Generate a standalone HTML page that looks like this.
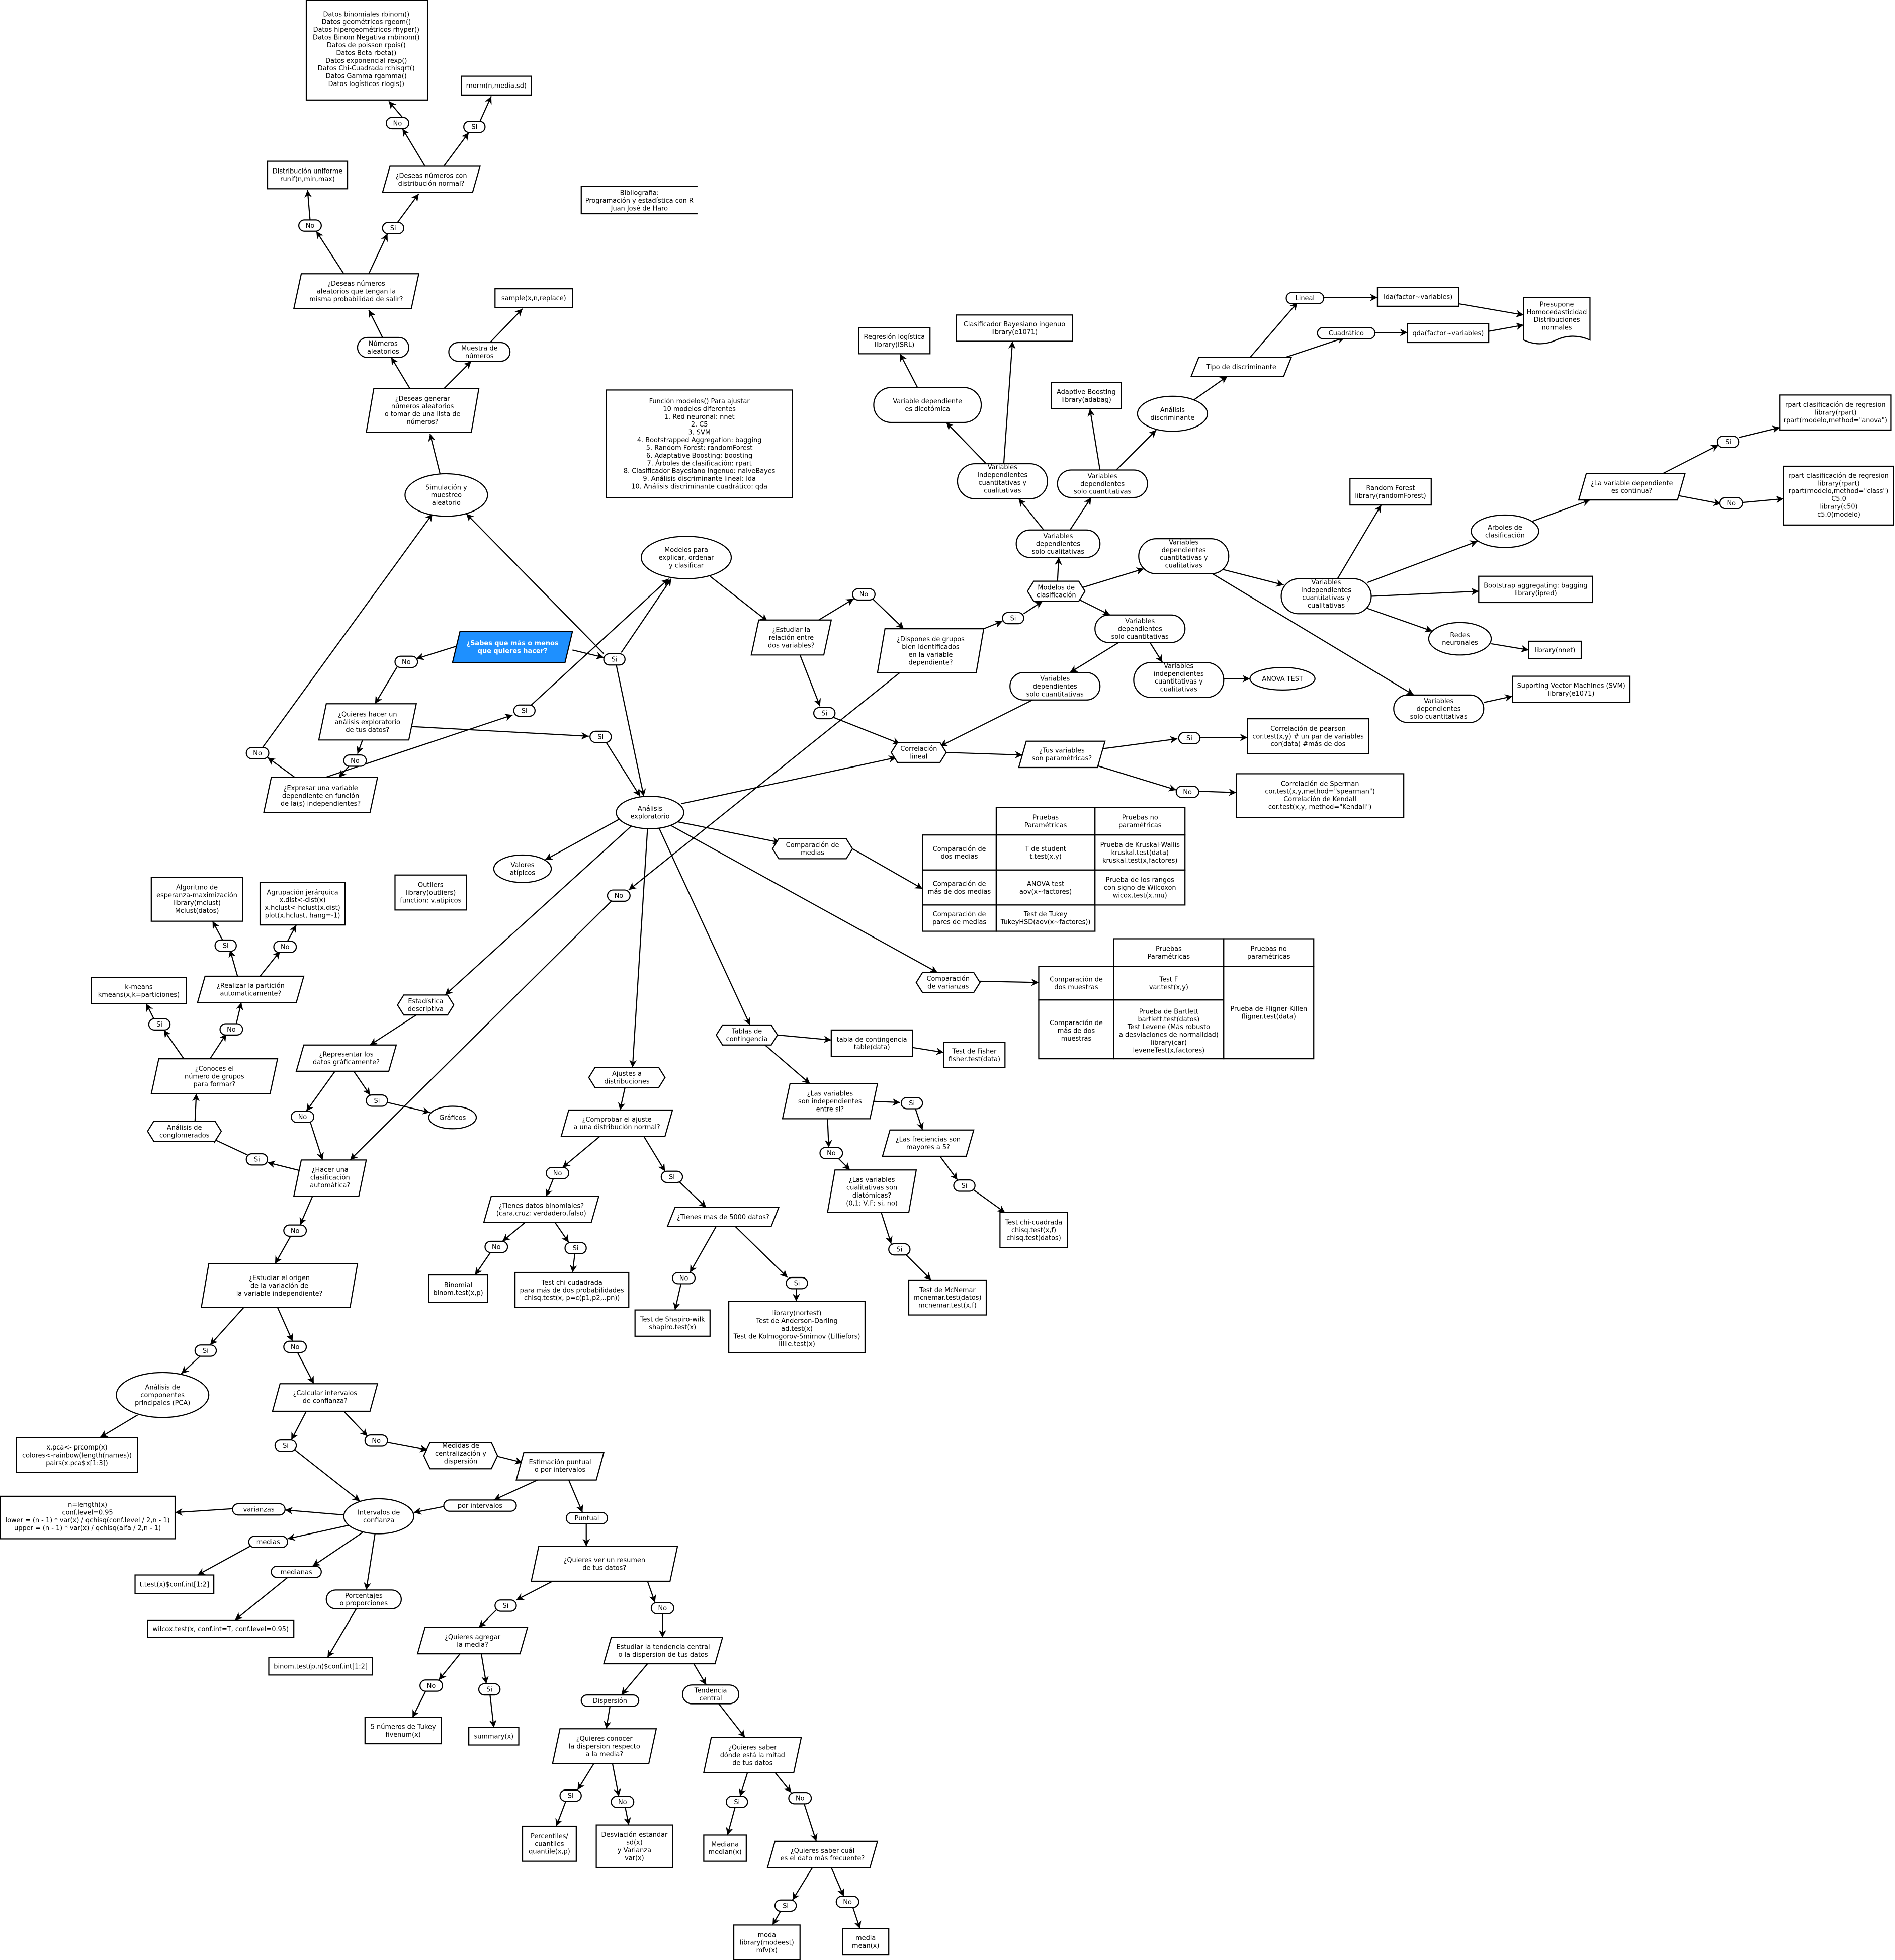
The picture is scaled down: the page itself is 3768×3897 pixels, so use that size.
<!DOCTYPE html>
<html><head><meta charset="utf-8">
<style>
html,body{margin:0;padding:0;background:#fff}
svg{display:block}
text{font-family:"DejaVu Sans","Liberation Sans",sans-serif;font-size:5.2px;text-anchor:middle;fill:#000}
.s{fill:#fff;stroke:#000;stroke-width:.9}
.l{stroke:#000;stroke-width:.9;fill:none;marker-end:url(#a)}
</style></head><body>
<svg width="3768" height="3897" viewBox="0 0 1516 1568" xmlns="http://www.w3.org/2000/svg">
<defs><marker id="a" viewBox="0 0 10 10" refX="10" refY="5" markerWidth="6" markerHeight="6" markerUnits="userSpaceOnUse" orient="auto"><path d="M0,0 L10,5 L0,10 L3,5 z" fill="#000"/></marker></defs>
<rect width="1516" height="1568" fill="#fff"/>

<!-- ARROWS -->
<g>
<line class="l" x1="322" y1="94" x2="311" y2="81"/>
<line class="l" x1="340" y1="133" x2="322" y2="103"/>
<line class="l" x1="355" y1="133" x2="375" y2="106"/>
<line class="l" x1="384" y1="97" x2="393" y2="77"/>
<line class="l" x1="275" y1="219" x2="253" y2="185"/>
<line class="l" x1="248" y1="176" x2="246" y2="152"/>
<line class="l" x1="295" y1="219" x2="310" y2="187"/>
<line class="l" x1="318" y1="178" x2="335" y2="155"/>
<line class="l" x1="306" y1="270" x2="295" y2="248"/>
<line class="l" x1="328" y1="311" x2="313" y2="286"/>
<line class="l" x1="355" y1="311" x2="377" y2="289"/>
<line class="l" x1="392" y1="274" x2="418" y2="247"/>
<line class="l" x1="352" y1="379" x2="344" y2="347"/>
<line class="l" x1="210" y1="598" x2="346" y2="411"/>
<line class="l" x1="236" y1="622" x2="214" y2="606"/>
<line class="l" x1="483" y1="523" x2="373" y2="411"/>
<line class="l" x1="458" y1="520" x2="483" y2="526"/>
<line class="l" x1="365" y1="517" x2="333" y2="527"/>
<line class="l" x1="497" y1="522" x2="537" y2="463"/>
<line class="l" x1="493" y1="532" x2="515" y2="637"/>
<line class="l" x1="318" y1="533" x2="300" y2="563"/>
<line class="l" x1="290" y1="592" x2="286" y2="603"/>
<line class="l" x1="280" y1="612" x2="271" y2="622"/>
<line class="l" x1="325" y1="581" x2="471" y2="589"/>
<line class="l" x1="485" y1="594" x2="512" y2="637"/>
<line class="l" x1="260" y1="622" x2="410" y2="572"/>
<line class="l" x1="425" y1="564" x2="535" y2="463"/>
<line class="l" x1="568" y1="461" x2="614" y2="497"/>
<line class="l" x1="655" y1="496" x2="683" y2="479"/>
<line class="l" x1="698" y1="479" x2="723" y2="503"/>
<line class="l" x1="640" y1="524" x2="656" y2="565"/>
<line class="l" x1="667" y1="574" x2="720" y2="595"/>
<line class="l" x1="787" y1="503" x2="802" y2="497"/>
<line class="l" x1="819" y1="491" x2="834" y2="481"/>
<line class="l" x1="720" y1="538" x2="503" y2="712"/>
<line class="l" x1="490" y1="720" x2="280" y2="928"/>
<line class="l" x1="545" y1="643" x2="717" y2="606"/>
<line class="l" x1="757" y1="602" x2="818" y2="604"/>
<line class="l" x1="882" y1="599" x2="942" y2="591"/>
<line class="l" x1="960" y1="590" x2="998" y2="590"/>
<line class="l" x1="876" y1="612" x2="941" y2="632"/>
<line class="l" x1="959" y1="633" x2="989" y2="634"/>
<line class="l" x1="826" y1="560" x2="752" y2="597"/>
<line class="l" x1="540" y1="657" x2="624" y2="674"/>
<line class="l" x1="682" y1="679" x2="738" y2="711"/>
<line class="l" x1="536" y1="660" x2="750" y2="778"/>
<line class="l" x1="784" y1="785" x2="831" y2="786"/>
<line class="l" x1="496" y1="655" x2="436" y2="688"/>
<line class="l" x1="506" y1="660" x2="356" y2="796"/>
<line class="l" x1="518" y1="663" x2="506" y2="854"/>
<line class="l" x1="527" y1="662" x2="600" y2="820"/>
<line class="l" x1="333" y1="812" x2="296" y2="836"/>
<line class="l" x1="268" y1="857" x2="245" y2="889"/>
<line class="l" x1="248" y1="897" x2="258" y2="928"/>
<line class="l" x1="283" y1="857" x2="296" y2="876"/>
<line class="l" x1="310" y1="882" x2="344" y2="890"/>
<line class="l" x1="242" y1="937" x2="214" y2="930"/>
<line class="l" x1="198" y1="924" x2="168" y2="910"/>
<line class="l" x1="156" y1="897" x2="157" y2="875"/>
<line class="l" x1="147" y1="847" x2="131" y2="824"/>
<line class="l" x1="123" y1="815" x2="117" y2="803"/>
<line class="l" x1="168" y1="847" x2="181" y2="827"/>
<line class="l" x1="189" y1="819" x2="193" y2="802"/>
<line class="l" x1="190" y1="781" x2="184" y2="760"/>
<line class="l" x1="178" y1="752" x2="170" y2="737"/>
<line class="l" x1="208" y1="781" x2="224" y2="761"/>
<line class="l" x1="230" y1="753" x2="237" y2="740"/>
<line class="l" x1="250" y1="957" x2="240" y2="980"/>
<line class="l" x1="233" y1="988" x2="220" y2="1011"/>
<line class="l" x1="195" y1="1046" x2="168" y2="1076"/>
<line class="l" x1="160" y1="1085" x2="145" y2="1099"/>
<line class="l" x1="110" y1="1132" x2="80" y2="1150"/>
<line class="l" x1="222" y1="1046" x2="234" y2="1073"/>
<line class="l" x1="238" y1="1082" x2="251" y2="1107"/>
<line class="l" x1="245" y1="1129" x2="233" y2="1152"/>
<line class="l" x1="275" y1="1129" x2="294" y2="1149"/>
<line class="l" x1="310" y1="1154" x2="342" y2="1160"/>
<line class="l" x1="236" y1="1160" x2="288" y2="1201"/>
<line class="l" x1="398" y1="1165" x2="418" y2="1170"/>
<line class="l" x1="430" y1="1184" x2="395" y2="1200"/>
<line class="l" x1="455" y1="1184" x2="466" y2="1210"/>
<line class="l" x1="356" y1="1205" x2="331" y2="1210"/>
<line class="l" x1="276" y1="1212" x2="228" y2="1208"/>
<line class="l" x1="186" y1="1207" x2="140" y2="1210"/>
<line class="l" x1="280" y1="1220" x2="230" y2="1231"/>
<line class="l" x1="200" y1="1237" x2="158" y2="1260"/>
<line class="l" x1="290" y1="1226" x2="250" y2="1253"/>
<line class="l" x1="230" y1="1262" x2="188" y2="1296"/>
<line class="l" x1="300" y1="1227" x2="293" y2="1272"/>
<line class="l" x1="285" y1="1287" x2="262" y2="1326"/>
<line class="l" x1="469" y1="1219" x2="469" y2="1237"/>
<line class="l" x1="442" y1="1265" x2="413" y2="1280"/>
<line class="l" x1="397" y1="1288" x2="383" y2="1302"/>
<line class="l" x1="518" y1="1265" x2="524" y2="1282"/>
<line class="l" x1="530" y1="1290" x2="530" y2="1310"/>
<line class="l" x1="368" y1="1323" x2="351" y2="1344"/>
<line class="l" x1="341" y1="1352" x2="330" y2="1374"/>
<line class="l" x1="385" y1="1323" x2="389" y2="1347"/>
<line class="l" x1="392" y1="1356" x2="395" y2="1382"/>
<line class="l" x1="518" y1="1331" x2="497" y2="1356"/>
<line class="l" x1="488" y1="1365" x2="485" y2="1383"/>
<line class="l" x1="555" y1="1331" x2="565" y2="1348"/>
<line class="l" x1="575" y1="1363" x2="596" y2="1390"/>
<line class="l" x1="475" y1="1411" x2="462" y2="1432"/>
<line class="l" x1="453" y1="1440" x2="445" y2="1461"/>
<line class="l" x1="490" y1="1411" x2="495" y2="1437"/>
<line class="l" x1="500" y1="1445" x2="503" y2="1460"/>
<line class="l" x1="598" y1="1418" x2="592" y2="1437"/>
<line class="l" x1="588" y1="1446" x2="582" y2="1468"/>
<line class="l" x1="620" y1="1418" x2="633" y2="1434"/>
<line class="l" x1="643" y1="1442" x2="653" y2="1473"/>
<line class="l" x1="650" y1="1494" x2="634" y2="1520"/>
<line class="l" x1="625" y1="1528" x2="618" y2="1540"/>
<line class="l" x1="665" y1="1494" x2="675" y2="1517"/>
<line class="l" x1="682" y1="1525" x2="688" y2="1543"/>
<line class="l" x1="500" y1="870" x2="496" y2="888"/>
<line class="l" x1="480" y1="909" x2="450" y2="934"/>
<line class="l" x1="443" y1="942" x2="437" y2="957"/>
<line class="l" x1="515" y1="909" x2="532" y2="937"/>
<line class="l" x1="543" y1="945" x2="565" y2="966"/>
<line class="l" x1="420" y1="978" x2="402" y2="993"/>
<line class="l" x1="393" y1="1001" x2="380" y2="1020"/>
<line class="l" x1="444" y1="978" x2="455" y2="994"/>
<line class="l" x1="460" y1="1002" x2="458" y2="1018"/>
<line class="l" x1="573" y1="981" x2="552" y2="1018"/>
<line class="l" x1="545" y1="1026" x2="540" y2="1048"/>
<line class="l" x1="588" y1="981" x2="630" y2="1022"/>
<line class="l" x1="637" y1="1030" x2="637" y2="1041"/>
<line class="l" x1="622" y1="828" x2="665" y2="832"/>
<line class="l" x1="730" y1="838" x2="755" y2="842"/>
<line class="l" x1="612" y1="836" x2="648" y2="867"/>
<line class="l" x1="697" y1="881" x2="720" y2="882"/>
<line class="l" x1="732" y1="886" x2="738" y2="904"/>
<line class="l" x1="662" y1="895" x2="663" y2="918"/>
<line class="l" x1="670" y1="926" x2="680" y2="936"/>
<line class="l" x1="752" y1="925" x2="766" y2="944"/>
<line class="l" x1="779" y1="952" x2="804" y2="970"/>
<line class="l" x1="705" y1="970" x2="713" y2="995"/>
<line class="l" x1="724" y1="1003" x2="745" y2="1024"/>
<line class="l" x1="846" y1="465" x2="847" y2="446"/>
<line class="l" x1="866" y1="470" x2="915" y2="455"/>
<line class="l" x1="862" y1="479" x2="888" y2="492"/>
<line class="l" x1="835" y1="424" x2="815" y2="399"/>
<line class="l" x1="856" y1="424" x2="873" y2="398"/>
<line class="l" x1="803" y1="371" x2="810" y2="273"/>
<line class="l" x1="789" y1="371" x2="757" y2="338"/>
<line class="l" x1="734" y1="310" x2="720" y2="283"/>
<line class="l" x1="880" y1="376" x2="872" y2="327"/>
<line class="l" x1="893" y1="376" x2="925" y2="344"/>
<line class="l" x1="955" y1="320" x2="982" y2="301"/>
<line class="l" x1="1000" y1="286" x2="1038" y2="242"/>
<line class="l" x1="1059" y1="238" x2="1102" y2="238"/>
<line class="l" x1="1167" y1="243" x2="1219" y2="252"/>
<line class="l" x1="1028" y1="286" x2="1076" y2="270"/>
<line class="l" x1="1100" y1="266" x2="1126" y2="266"/>
<line class="l" x1="1191" y1="265" x2="1219" y2="260"/>
<line class="l" x1="976" y1="455" x2="1027" y2="468"/>
<line class="l" x1="970" y1="459" x2="1131" y2="556"/>
<line class="l" x1="920" y1="514" x2="930" y2="530"/>
<line class="l" x1="895" y1="514" x2="856" y2="538"/>
<line class="l" x1="979" y1="543" x2="1000" y2="543"/>
<line class="l" x1="1070" y1="463" x2="1105" y2="404"/>
<line class="l" x1="1094" y1="466" x2="1182" y2="433"/>
<line class="l" x1="1097" y1="477" x2="1183" y2="473"/>
<line class="l" x1="1092" y1="486" x2="1146" y2="505"/>
<line class="l" x1="1193" y1="515" x2="1223" y2="520"/>
<line class="l" x1="1187" y1="562" x2="1210" y2="557"/>
<line class="l" x1="1226" y1="417" x2="1272" y2="400"/>
<line class="l" x1="1330" y1="379" x2="1375" y2="356"/>
<line class="l" x1="1391" y1="350" x2="1424" y2="342"/>
<line class="l" x1="1340" y1="396" x2="1377" y2="403"/>
<line class="l" x1="1394" y1="402" x2="1427" y2="399"/>
</g>

<!-- RECTANGLES -->
<g class="s">
<rect x="245" y="0" width="97" height="80"/>
<rect x="369" y="61" width="56" height="15"/>
<rect x="214" y="129" width="64" height="22"/>
<rect x="396" y="231" width="62" height="15"/>
<rect x="485" y="312" width="149" height="86"/>
<rect x="316" y="700" width="57" height="28"/>
<rect x="998" y="575" width="97" height="28"/>
<rect x="989" y="619" width="134" height="35"/>
<rect x="687" y="262" width="57" height="21"/>
<rect x="765" y="252" width="93" height="21"/>
<rect x="841" y="306" width="56" height="21"/>
<rect x="1102" y="230" width="65" height="15"/>
<rect x="1126" y="259" width="65" height="15"/>
<rect x="1080" y="383" width="65" height="21"/>
<rect x="1424" y="316" width="89" height="28"/>
<rect x="1427" y="373" width="88" height="47"/>
<rect x="1183" y="461" width="91" height="21"/>
<rect x="1223" y="513" width="42" height="14"/>
<rect x="1210" y="541" width="94" height="21"/>
<rect x="121" y="702" width="73" height="35"/>
<rect x="208" y="706" width="68" height="34"/>
<rect x="73" y="782" width="76" height="21"/>
<rect x="13" y="1150" width="97" height="28"/>
<rect x="0" y="1197" width="140" height="34"/>
<rect x="108" y="1260" width="63" height="15"/>
<rect x="118" y="1296" width="117" height="14"/>
<rect x="215" y="1326" width="83" height="14"/>
<rect x="292" y="1374" width="61" height="21"/>
<rect x="375" y="1382" width="40" height="14"/>
<rect x="418" y="1461" width="43" height="28"/>
<rect x="477" y="1460" width="61" height="34"/>
<rect x="563" y="1468" width="34" height="21"/>
<rect x="587" y="1540" width="53" height="28"/>
<rect x="674" y="1543" width="37" height="21"/>
<rect x="343" y="1020" width="47" height="22"/>
<rect x="412" y="1018" width="91" height="28"/>
<rect x="508" y="1048" width="60" height="21"/>
<rect x="583" y="1041" width="109" height="41"/>
<rect x="665" y="824" width="65" height="21"/>
<rect x="755" y="834" width="49" height="20"/>
<rect x="800" y="970" width="54" height="28"/>
<rect x="727" y="1024" width="62" height="28"/>
<!-- tables -->
<rect x="797" y="646" width="79" height="22"/><rect x="876" y="646" width="72" height="22"/>
<rect x="738" y="668" width="59" height="28"/><rect x="797" y="668" width="79" height="28"/><rect x="876" y="668" width="72" height="28"/>
<rect x="738" y="696" width="59" height="28"/><rect x="797" y="696" width="79" height="28"/><rect x="876" y="696" width="72" height="28"/>
<rect x="738" y="724" width="59" height="21"/><rect x="797" y="724" width="79" height="21"/>
<rect x="891" y="751" width="88" height="22"/><rect x="979" y="751" width="72" height="22"/>
<rect x="831" y="773" width="60" height="27"/><rect x="891" y="773" width="88" height="27"/>
<rect x="831" y="800" width="60" height="47"/><rect x="891" y="800" width="88" height="47"/>
<rect x="979" y="773" width="72" height="74"/>
<!-- bibliografia (open right) -->
<path d="M558,149 L465,149 L465,171 L558,171" style="fill:#fff"/>
<!-- document -->
<path d="M1219,238 L1272,238 L1272,272 Q1258,266 1245,272 Q1232,278 1219,272 Z"/>
</g>

<!-- ELLIPSES -->
<g class="s">
<ellipse cx="357" cy="396" rx="33" ry="17"/>
<ellipse cx="549" cy="446" rx="36" ry="17"/>
<ellipse cx="520" cy="650" rx="27" ry="13"/>
<ellipse cx="418" cy="695" rx="23" ry="11"/>
<ellipse cx="938" cy="331" rx="28" ry="14"/>
<ellipse cx="1026" cy="543" rx="26" ry="9"/>
<ellipse cx="1204" cy="425" rx="27" ry="13"/>
<ellipse cx="1168" cy="511" rx="25" ry="13"/>
<ellipse cx="362" cy="894" rx="19" ry="9"/>
<ellipse cx="130" cy="1116" rx="37" ry="18"/>
<ellipse cx="303" cy="1213" rx="28" ry="14"/>
</g>

<!-- PILLS -->
<g class="s">
<rect x="286" y="270" width="41" height="16" rx="8"/>
<rect x="359" y="274" width="49" height="15" rx="7.5"/>
<rect x="699" y="310" width="86" height="28" rx="14"/>
<rect x="766" y="371" width="72" height="28" rx="14"/>
<rect x="846" y="376" width="72" height="22" rx="11"/>
<rect x="813" y="424" width="67" height="22" rx="11"/>
<rect x="911" y="431" width="72" height="28" rx="14"/>
<rect x="876" y="492" width="72" height="22" rx="11"/>
<rect x="808" y="538" width="72" height="22" rx="11"/>
<rect x="907" y="530" width="72" height="28" rx="14"/>
<rect x="1025" y="463" width="72" height="28" rx="14"/>
<rect x="1115" y="556" width="72" height="22" rx="11"/>
<rect x="1029" y="234" width="30" height="9" rx="4.5"/>
<rect x="1054" y="262" width="46" height="9" rx="4.5"/>
<rect x="186" y="1203" width="42" height="9" rx="4.5"/>
<rect x="355" y="1200" width="58" height="9" rx="4.5"/>
<rect x="453" y="1210" width="33" height="9" rx="4.5"/>
<rect x="199" y="1229" width="31" height="9" rx="4.5"/>
<rect x="217" y="1253" width="40" height="9" rx="4.5"/>
<rect x="261" y="1272" width="60" height="15" rx="7.5"/>
<rect x="465" y="1356" width="46" height="9" rx="4.5"/>
<rect x="546" y="1348" width="45" height="15" rx="7.5"/>
<!-- Si/No -->
<rect x="309" y="94" width="18" height="9" rx="4.5"/>
<rect x="371" y="97" width="17" height="9" rx="4.5"/>
<rect x="239" y="176" width="18" height="9" rx="4.5"/>
<rect x="306" y="178" width="17" height="9" rx="4.5"/>
<rect x="483" y="523" width="17" height="9" rx="4.5"/>
<rect x="316" y="525" width="18" height="9" rx="4.5"/>
<rect x="411" y="564" width="17" height="9" rx="4.5"/>
<rect x="472" y="585" width="17" height="9" rx="4.5"/>
<rect x="197" y="598" width="18" height="9" rx="4.5"/>
<rect x="275" y="604" width="18" height="9" rx="4.5"/>
<rect x="486" y="712" width="18" height="9" rx="4.5"/>
<rect x="682" y="471" width="18" height="9" rx="4.5"/>
<rect x="651" y="566" width="17" height="9" rx="4.5"/>
<rect x="802" y="490" width="17" height="9" rx="4.5"/>
<rect x="943" y="586" width="17" height="9" rx="4.5"/>
<rect x="941" y="629" width="18" height="9" rx="4.5"/>
<rect x="1374" y="349" width="17" height="9" rx="4.5"/>
<rect x="1376" y="398" width="18" height="9" rx="4.5"/>
<rect x="172" y="752" width="17" height="9" rx="4.5"/>
<rect x="219" y="753" width="18" height="9" rx="4.5"/>
<rect x="119" y="815" width="17" height="9" rx="4.5"/>
<rect x="176" y="819" width="18" height="9" rx="4.5"/>
<rect x="197" y="923" width="17" height="9" rx="4.5"/>
<rect x="233" y="889" width="18" height="9" rx="4.5"/>
<rect x="293" y="876" width="17" height="9" rx="4.5"/>
<rect x="227" y="980" width="18" height="9" rx="4.5"/>
<rect x="156" y="1076" width="17" height="9" rx="4.5"/>
<rect x="227" y="1073" width="18" height="9" rx="4.5"/>
<rect x="220" y="1152" width="17" height="9" rx="4.5"/>
<rect x="292" y="1148" width="18" height="9" rx="4.5"/>
<rect x="396" y="1280" width="17" height="9" rx="4.5"/>
<rect x="521" y="1282" width="18" height="9" rx="4.5"/>
<rect x="336" y="1344" width="18" height="9" rx="4.5"/>
<rect x="383" y="1347" width="17" height="9" rx="4.5"/>
<rect x="448" y="1432" width="17" height="9" rx="4.5"/>
<rect x="489" y="1437" width="18" height="9" rx="4.5"/>
<rect x="581" y="1437" width="17" height="9" rx="4.5"/>
<rect x="631" y="1434" width="18" height="9" rx="4.5"/>
<rect x="620" y="1520" width="17" height="9" rx="4.5"/>
<rect x="669" y="1517" width="18" height="9" rx="4.5"/>
<rect x="437" y="934" width="18" height="9" rx="4.5"/>
<rect x="529" y="937" width="17" height="9" rx="4.5"/>
<rect x="388" y="993" width="18" height="9" rx="4.5"/>
<rect x="452" y="994" width="17" height="9" rx="4.5"/>
<rect x="538" y="1018" width="18" height="9" rx="4.5"/>
<rect x="629" y="1022" width="17" height="9" rx="4.5"/>
<rect x="721" y="878" width="17" height="9" rx="4.5"/>
<rect x="656" y="918" width="18" height="9" rx="4.5"/>
<rect x="763" y="944" width="17" height="9" rx="4.5"/>
<rect x="711" y="995" width="17" height="9" rx="4.5"/>
</g>

<!-- PARALLELOGRAMS & HEXAGONS -->
<g class="s">
<polygon points="312,133 384,133 378,154 306,154"/>
<polygon points="241,219 335,219 329,247 235,247"/>
<polygon points="299,311 383,311 377,346 293,346"/>
<polygon points="368,505 458,505 452,530 362,530" style="fill:#1e90ff"/>
<polygon points="261,563 333,563 327,592 255,592"/>
<polygon points="217,622 302,622 296,650 211,650"/>
<polygon points="607,496 665,496 659,524 601,524"/>
<polygon points="708,503 787,503 781,538 702,538"/>
<polygon points="821,593 884,593 878,614 815,614"/>
<polygon points="959,286 1033,286 1027,301 953,301"/>
<polygon points="1269,379 1348,379 1342,400 1263,400"/>
<polygon points="164,781 243,781 237,802 158,802"/>
<polygon points="127,847 222,847 216,875 121,875"/>
<polygon points="243,836 317,836 311,857 237,857"/>
<polygon points="241,928 293,928 287,957 235,957"/>
<polygon points="167,1011 286,1011 280,1046 161,1046"/>
<polygon points="224,1107 302,1107 296,1129 218,1129"/>
<polygon points="419,1162 483,1162 477,1184 413,1184"/>
<polygon points="431,1237 542,1237 536,1265 425,1265"/>
<polygon points="340,1302 422,1302 416,1323 334,1323"/>
<polygon points="489,1310 578,1310 572,1331 483,1331"/>
<polygon points="448,1383 525,1383 519,1411 442,1411"/>
<polygon points="569,1390 641,1390 635,1418 563,1418"/>
<polygon points="620,1473 702,1473 696,1494 614,1494"/>
<polygon points="455,888 538,888 532,909 449,909"/>
<polygon points="393,957 479,957 473,978 387,978"/>
<polygon points="540,966 623,966 617,981 534,981"/>
<polygon points="632,867 702,867 696,895 626,895"/>
<polygon points="712,904 779,904 773,925 706,925"/>
<polygon points="668,936 733,936 727,970 662,970"/>
<!-- hexagons -->
<polygon points="623,671 677,671 682,679 677,687 623,687 618,679"/>
<polygon points="323,796 358,796 363,804 358,812 323,812 318,804"/>
<polygon points="476,854 527,854 532,862 527,870 476,870 471,862"/>
<polygon points="578,820 617,820 622,828 617,836 578,836 573,828"/>
<polygon points="738,778 779,778 784,786 779,794 738,794 733,786"/>
<polygon points="827,465 863,465 868,473 863,481 827,481 822,473"/>
<polygon points="718,594 752,594 757,602 752,610 718,610 713,602"/>
<polygon points="123,897 172,897 177,905 172,913 123,913 118,905"/>
<polygon points="344,1154 393,1154 398,1164.5 393,1175 344,1175 339,1164.5"/>
</g>

<!-- TEXT -->
<g>
<text x="293" y="13"><tspan x="293">Datos binomiales   rbinom()</tspan><tspan x="293" dy="6.2">Datos geométricos  rgeom()</tspan><tspan x="293" dy="6.2">Datos hipergeométricos    rhyper()</tspan><tspan x="293" dy="6.2">Datos Binom Negativa rnbinom()</tspan><tspan x="293" dy="6.2">Datos de poisson rpois()</tspan><tspan x="293" dy="6.2">Datos Beta rbeta()</tspan><tspan x="293" dy="6.2">Datos exponencial rexp()</tspan><tspan x="293" dy="6.2">Datos Chi-Cuadrada rchisqrt()</tspan><tspan x="293" dy="6.2">Datos Gamma rgamma()</tspan><tspan x="293" dy="6.2">Datos logísticos rlogis()</tspan></text>
<text x="397" y="70.3">rnorm(n,media,sd)</text>
<text x="318" y="100.3">No</text><text x="379.5" y="103.3">Si</text>
<text x="345" y="142.2"><tspan x="345">¿Deseas números con</tspan><tspan x="345" dy="6.2">distribución normal?</tspan></text>
<text x="246" y="138.7"><tspan x="246">Distribución uniforme</tspan><tspan x="246" dy="6.2">runif(n,min,max)</tspan></text>
<text x="248" y="182.3">No</text><text x="314.5" y="184.3">Si</text>
<text x="285" y="228.6"><tspan x="285">¿Deseas números</tspan><tspan x="285" dy="6.2">aleatorios que tengan la</tspan><tspan x="285" dy="6.2">misma probabilidad de salir?</tspan></text>
<text x="511.5" y="155.9"><tspan x="511.5">Bibliografia:</tspan><tspan x="511.5" dy="6.2">Programación y estadística con R</tspan><tspan x="511.5" dy="6.2">Juan José de Haro</tspan></text>
<text x="427" y="240.3">sample(x,n,replace)</text>
<text x="306.5" y="276.7"><tspan x="306.5">Números</tspan><tspan x="306.5" dy="6.2">aleatorios</tspan></text>
<text x="383.5" y="280.2"><tspan x="383.5">Muestra de</tspan><tspan x="383.5" dy="6.2">números</tspan></text>
<text x="338" y="320.6"><tspan x="338">¿Deseas generar</tspan><tspan x="338" dy="6.2">números aleatorios</tspan><tspan x="338" dy="6.2">o tomar de una lista de</tspan><tspan x="338" dy="6.2">números?</tspan></text>
<text x="559.5" y="322.7"><tspan x="559.5">Función modelos() Para ajustar</tspan><tspan x="559.5" dy="6.2">10 modelos diferentes</tspan><tspan x="559.5" dy="6.2">1. Red neuronal: nnet</tspan><tspan x="559.5" dy="6.2">2. C5</tspan><tspan x="559.5" dy="6.2">3. SVM</tspan><tspan x="559.5" dy="6.2">4. Bootstrapped Aggregation: bagging</tspan><tspan x="559.5" dy="6.2">5. Random Forest: randomForest</tspan><tspan x="559.5" dy="6.2">6. Adaptative Boosting: boosting</tspan><tspan x="559.5" dy="6.2">7. Árboles de clasificación: rpart</tspan><tspan x="559.5" dy="6.2">8. Clasificador Bayesiano ingenuo: naiveBayes</tspan><tspan x="559.5" dy="6.2">9. Análisis discriminante lineal: lda</tspan><tspan x="559.5" dy="6.2">10. Análisis discriminante cuadrático: qda</tspan></text>
<text x="357" y="391.6"><tspan x="357">Simulación y</tspan><tspan x="357" dy="6.2">muestreo</tspan><tspan x="357" dy="6.2">aleatorio</tspan></text>
<text x="549" y="441.6"><tspan x="549">Modelos para</tspan><tspan x="549" dy="6.2">explicar, ordenar</tspan><tspan x="549" dy="6.2">y clasificar</tspan></text>
<text x="410" y="516.2" style="fill:#fff;font-weight:bold"><tspan x="410">¿Sabes que más o menos</tspan><tspan x="410" dy="6.2">que quieres hacer?</tspan></text>
<text x="491.5" y="529.3">Si</text><text x="325" y="531.3">No</text>
<text x="294" y="573.2"><tspan x="294">¿Quieres hacer un</tspan><tspan x="294" dy="6.2">análisis exploratorio</tspan><tspan x="294" dy="6.2">de tus datos?</tspan></text>
<text x="419.5" y="570.3">Si</text><text x="480.5" y="591.3">Si</text>
<text x="206" y="604.3">No</text><text x="284" y="610.3">No</text>
<text x="256.5" y="632.2"><tspan x="256.5">¿Expresar una variable</tspan><tspan x="256.5" dy="6.2">dependiente en función</tspan><tspan x="256.5" dy="6.2">de la(s) independientes?</tspan></text>
<text x="520" y="648.7"><tspan x="520">Análisis</tspan><tspan x="520" dy="6.2">exploratorio</tspan></text>
<text x="418" y="693.7"><tspan x="418">Valores</tspan><tspan x="418" dy="6.2">atípicos</tspan></text>
<text x="344.5" y="709.6"><tspan x="344.5">Outliers</tspan><tspan x="344.5" dy="6.2">library(outliers)</tspan><tspan x="344.5" dy="6.2">function: v.atipicos</tspan></text>
<text x="495" y="718.3">No</text>
<text x="650" y="677.7"><tspan x="650">Comparación de</tspan><tspan x="650" dy="6.2">medias</tspan></text>
<text x="340.5" y="802.7"><tspan x="340.5">Estadística</tspan><tspan x="340.5" dy="6.2">descriptiva</tspan></text>
<text x="501.5" y="860.7"><tspan x="501.5">Ajustes a</tspan><tspan x="501.5" dy="6.2">distribuciones</tspan></text>
<text x="597.5" y="826.7"><tspan x="597.5">Tablas de</tspan><tspan x="597.5" dy="6.2">contingencia</tspan></text>
<text x="758.5" y="784.7"><tspan x="758.5">Comparación</tspan><tspan x="758.5" dy="6.2">de varianzas</tspan></text>
<text x="633" y="505.6"><tspan x="633">¿Estudiar la</tspan><tspan x="633" dy="6.2">relación entre</tspan><tspan x="633" dy="6.2">dos variables?</tspan></text>
<text x="691" y="477.3">No</text><text x="659.5" y="572.3">Si</text>
<text x="744.5" y="513.1"><tspan x="744.5">¿Dispones de grupos</tspan><tspan x="744.5" dy="6.2">bien identificados</tspan><tspan x="744.5" dy="6.2">en la variable</tspan><tspan x="744.5" dy="6.2">dependiente?</tspan></text>
<text x="810.5" y="496.3">Si</text>
<text x="845" y="471.7"><tspan x="845">Modelos de</tspan><tspan x="845" dy="6.2">clasificación</tspan></text>
<text x="735" y="600.7"><tspan x="735">Correlación</tspan><tspan x="735" dy="6.2">lineal</tspan></text>
<text x="849.5" y="602.2"><tspan x="849.5">¿Tus variables</tspan><tspan x="849.5" dy="6.2">son paramétricas?</tspan></text>
<text x="951.5" y="592.3">Si</text><text x="950" y="635.3">No</text>
<text x="1046.5" y="584.6"><tspan x="1046.5">Correlación de pearson</tspan><tspan x="1046.5" dy="6.2">cor.test(x,y) # un par de variables</tspan><tspan x="1046.5" dy="6.2">cor(data) #más de dos</tspan></text>
<text x="1056" y="628.6"><tspan x="1056">Correlación de Sperman</tspan><tspan x="1056" dy="6.2">cor.test(x,y,method="spearman")</tspan><tspan x="1056" dy="6.2">Correlación de Kendall</tspan><tspan x="1056" dy="6.2">cor.test(x,y, method="Kendall")</tspan></text>
<text x="715.5" y="271.2"><tspan x="715.5">Regresión logística</tspan><tspan x="715.5" dy="6.2">library(ISRL)</tspan></text>
<text x="811.5" y="261.2"><tspan x="811.5">Clasificador Bayesiano ingenuo</tspan><tspan x="811.5" dy="6.2">library(e1071)</tspan></text>
<text x="742" y="322.7"><tspan x="742">Variable dependiente</tspan><tspan x="742" dy="6.2">es dicotómica</tspan></text>
<text x="869" y="315.2"><tspan x="869">Adaptive Boosting</tspan><tspan x="869" dy="6.2">library(adabag)</tspan></text>
<text x="802" y="375.5"><tspan x="802">Variables</tspan><tspan x="802" dy="6.2">independientes</tspan><tspan x="802" dy="6.2">cuantitativas y</tspan><tspan x="802" dy="6.2">cualitativas</tspan></text>
<text x="882" y="382.6"><tspan x="882">Variables</tspan><tspan x="882" dy="6.2">dependientes</tspan><tspan x="882" dy="6.2">solo cuantitativas</tspan></text>
<text x="938" y="329.7"><tspan x="938">Análisis</tspan><tspan x="938" dy="6.2">discriminante</tspan></text>
<text x="846.5" y="430.6"><tspan x="846.5">Variables</tspan><tspan x="846.5" dy="6.2">dependientes</tspan><tspan x="846.5" dy="6.2">solo cualitativas</tspan></text>
<text x="947" y="435.5"><tspan x="947">Variables</tspan><tspan x="947" dy="6.2">dependientes</tspan><tspan x="947" dy="6.2">cuantitativas y</tspan><tspan x="947" dy="6.2">cualitativas</tspan></text>
<text x="912" y="498.6"><tspan x="912">Variables</tspan><tspan x="912" dy="6.2">dependientes</tspan><tspan x="912" dy="6.2">solo cuantitativas</tspan></text>
<text x="844" y="544.6"><tspan x="844">Variables</tspan><tspan x="844" dy="6.2">dependientes</tspan><tspan x="844" dy="6.2">solo cuantitativas</tspan></text>
<text x="943" y="534.5"><tspan x="943">Variables</tspan><tspan x="943" dy="6.2">independientes</tspan><tspan x="943" dy="6.2">cuantitativas y</tspan><tspan x="943" dy="6.2">cualitativas</tspan></text>
<text x="1026" y="544.8">ANOVA TEST</text>
<text x="993" y="295.3">Tipo de discriminante</text>
<text x="1044" y="240.3">Lineal</text>
<text x="1077" y="268.3">Cuadrático</text>
<text x="1134.5" y="239.3">lda(factor~variables)</text>
<text x="1158.5" y="268.3">qda(factor~variables)</text>
<text x="1245.5" y="245.2"><tspan x="1245.5">Presupone</tspan><tspan x="1245.5" dy="6.2">Homocedasticidad</tspan><tspan x="1245.5" dy="6.2">Distribuciones</tspan><tspan x="1245.5" dy="6.2">normales</tspan></text>
<text x="1112.5" y="392.2"><tspan x="1112.5">Random Forest</tspan><tspan x="1112.5" dy="6.2">library(randomForest)</tspan></text>
<text x="1061" y="467.5"><tspan x="1061">Variables</tspan><tspan x="1061" dy="6.2">independientes</tspan><tspan x="1061" dy="6.2">cuantitativas y</tspan><tspan x="1061" dy="6.2">cualitativas</tspan></text>
<text x="1204" y="423.7"><tspan x="1204">Arboles de</tspan><tspan x="1204" dy="6.2">clasificación</tspan></text>
<text x="1305.5" y="388.2"><tspan x="1305.5">¿La variable dependiente</tspan><tspan x="1305.5" dy="6.2">es continua?</tspan></text>
<text x="1382.5" y="355.3">Si</text><text x="1385" y="404.3">No</text>
<text x="1468.5" y="325.6"><tspan x="1468.5">rpart clasificación de regresion</tspan><tspan x="1468.5" dy="6.2">library(rpart)</tspan><tspan x="1468.5" dy="6.2">rpart(modelo,method="anova")</tspan></text>
<text x="1471" y="382.2"><tspan x="1471">rpart clasificación de regresion</tspan><tspan x="1471" dy="6.2">library(rpart)</tspan><tspan x="1471" dy="6.2">rpart(modelo,method="class")</tspan><tspan x="1471" dy="6.2">C5.0</tspan><tspan x="1471" dy="6.2">library(c50)</tspan><tspan x="1471" dy="6.2">c5.0(modelo)</tspan></text>
<text x="1228.5" y="470.2"><tspan x="1228.5">Bootstrap aggregating: bagging</tspan><tspan x="1228.5" dy="6.2">library(ipred)</tspan></text>
<text x="1168" y="509.7"><tspan x="1168">Redes</tspan><tspan x="1168" dy="6.2">neuronales</tspan></text>
<text x="1244" y="521.8">library(nnet)</text>
<text x="1151" y="562.6"><tspan x="1151">Variables</tspan><tspan x="1151" dy="6.2">dependientes</tspan><tspan x="1151" dy="6.2">solo cuantitativas</tspan></text>
<text x="1257" y="550.2"><tspan x="1257">Suporting Vector Machines (SVM)</tspan><tspan x="1257" dy="6.2">library(e1071)</tspan></text>
<!-- table medias -->
<text x="836.5" y="655.7"><tspan x="836.5">Pruebas</tspan><tspan x="836.5" dy="6.2">Paramétricas</tspan></text>
<text x="912" y="655.7"><tspan x="912">Pruebas no</tspan><tspan x="912" dy="6.2">paramétricas</tspan></text>
<text x="767.5" y="680.7"><tspan x="767.5">Comparación de</tspan><tspan x="767.5" dy="6.2">dos medias</tspan></text>
<text x="836.5" y="680.7"><tspan x="836.5">T  de student</tspan><tspan x="836.5" dy="6.2">t.test(x,y)</tspan></text>
<text x="912" y="677.6"><tspan x="912">Prueba de Kruskal-Wallis</tspan><tspan x="912" dy="6.2">kruskal.test(data)</tspan><tspan x="912" dy="6.2">kruskal.test(x,factores)</tspan></text>
<text x="767.5" y="708.7"><tspan x="767.5">Comparación de</tspan><tspan x="767.5" dy="6.2">más de dos medias</tspan></text>
<text x="836.5" y="708.7"><tspan x="836.5">ANOVA test</tspan><tspan x="836.5" dy="6.2">aov(x~factores)</tspan></text>
<text x="912" y="705.6"><tspan x="912">Prueba de los rangos</tspan><tspan x="912" dy="6.2">con signo de Wilcoxon</tspan><tspan x="912" dy="6.2">wicox.test(x,mu)</tspan></text>
<text x="767.5" y="733.2"><tspan x="767.5">Comparación de</tspan><tspan x="767.5" dy="6.2">pares de medias</tspan></text>
<text x="836.5" y="733.2"><tspan x="836.5">Test de Tukey</tspan><tspan x="836.5" dy="6.2">TukeyHSD(aov(x~factores))</tspan></text>
<!-- table varianzas -->
<text x="935" y="760.7"><tspan x="935">Pruebas</tspan><tspan x="935" dy="6.2">Paramétricas</tspan></text>
<text x="1015" y="760.7"><tspan x="1015">Pruebas no</tspan><tspan x="1015" dy="6.2">paramétricas</tspan></text>
<text x="861" y="785.2"><tspan x="861">Comparación de</tspan><tspan x="861" dy="6.2">dos muestras</tspan></text>
<text x="935" y="785.2"><tspan x="935">Test F</tspan><tspan x="935" dy="6.2">var.test(x,y)</tspan></text>
<text x="861" y="820.1"><tspan x="861">Comparación de</tspan><tspan x="861" dy="6.2">más de dos</tspan><tspan x="861" dy="6.2">muestras</tspan></text>
<text x="935" y="810.9"><tspan x="935">Prueba de Bartlett</tspan><tspan x="935" dy="6.2">bartlett.test(datos)</tspan><tspan x="935" dy="6.2">Test Levene (Más robusto</tspan><tspan x="935" dy="6.2">a desviaciones de normalidad)</tspan><tspan x="935" dy="6.2">library(car)</tspan><tspan x="935" dy="6.2">leveneTest(x,factores)</tspan></text>
<text x="1015" y="808.7"><tspan x="1015">Prueba de Fligner-Killen</tspan><tspan x="1015" dy="6.2">fligner.test(data)</tspan></text>
<!-- lower left -->
<text x="157.5" y="711.6"><tspan x="157.5">Algoritmo de</tspan><tspan x="157.5" dy="6.2">esperanza-maximización</tspan><tspan x="157.5" dy="6.2">library(mclust)</tspan><tspan x="157.5" dy="6.2">Mclust(datos)</tspan></text>
<text x="242" y="715.5"><tspan x="242">Agrupación jerárquica</tspan><tspan x="242" dy="6.2">x.dist&lt;-dist(x)</tspan><tspan x="242" dy="6.2">x.hclust&lt;-hclust(x.dist)</tspan><tspan x="242" dy="6.2">plot(x.hclust, hang=-1)</tspan></text>
<text x="180.5" y="758.3">Si</text><text x="228" y="759.3">No</text>
<text x="111" y="791.2"><tspan x="111">k-means</tspan><tspan x="111" dy="6.2">kmeans(x,k=particiones)</tspan></text>
<text x="200.5" y="790.2"><tspan x="200.5">¿Realizar la partición</tspan><tspan x="200.5" dy="6.2">automaticamente?</tspan></text>
<text x="127.5" y="821.3">Si</text><text x="185" y="825.3">No</text>
<text x="171.5" y="856.6"><tspan x="171.5">¿Conoces el</tspan><tspan x="171.5" dy="6.2">número de grupos</tspan><tspan x="171.5" dy="6.2">para formar?</tspan></text>
<text x="147.5" y="903.7"><tspan x="147.5">Análisis de</tspan><tspan x="147.5" dy="6.2">conglomerados</tspan></text>
<text x="205.5" y="929.3">Si</text>
<text x="277" y="845.2"><tspan x="277">¿Representar los</tspan><tspan x="277" dy="6.2">datos gráficamente?</tspan></text>
<text x="242" y="895.3">No</text><text x="301.5" y="882.3">Si</text>
<text x="362" y="895.8">Gráficos</text>
<text x="264" y="937.6"><tspan x="264">¿Hacer una</tspan><tspan x="264" dy="6.2">clasificación</tspan><tspan x="264" dy="6.2">automática?</tspan></text>
<text x="236" y="986.3">No</text>
<text x="223.5" y="1024.1"><tspan x="223.5">¿Estudiar el origen</tspan><tspan x="223.5" dy="6.2">de la variación de</tspan><tspan x="223.5" dy="6.2">la variable independiente?</tspan></text>
<text x="164.5" y="1082.3">Si</text><text x="236" y="1079.3">No</text>
<text x="130" y="1111.6"><tspan x="130">Análisis de</tspan><tspan x="130" dy="6.2">componentes</tspan><tspan x="130" dy="6.2">principales (PCA)</tspan></text>
<text x="61.5" y="1159.6"><tspan x="61.5">x.pca&lt;- prcomp(x)</tspan><tspan x="61.5" dy="6.2">colores&lt;-rainbow(length(names))</tspan><tspan x="61.5" dy="6.2">pairs(x.pca$x[1:3])</tspan></text>
<text x="260" y="1116.2"><tspan x="260">¿Calcular intervalos</tspan><tspan x="260" dy="6.2">de confianza?</tspan></text>
<text x="228.5" y="1158.3">Si</text><text x="301" y="1154.3">No</text>
<text x="368.5" y="1158.3"><tspan x="368.5">Medidas de</tspan><tspan x="368.5" dy="6.2">centralización y</tspan><tspan x="368.5" dy="6.2">dispersión</tspan></text>
<text x="448" y="1171.2"><tspan x="448">Estimación puntual</tspan><tspan x="448" dy="6.2">o por intervalos</tspan></text>
<text x="70" y="1205.5"><tspan x="70">n=length(x)</tspan><tspan x="70" dy="6.2">conf.level=0.95</tspan><tspan x="70" dy="6.2">lower = (n - 1) * var(x) / qchisq(conf.level / 2,n - 1)</tspan><tspan x="70" dy="6.2">upper = (n - 1) * var(x) / qchisq(alfa / 2,n - 1)</tspan></text>
<text x="207" y="1209.3">varianzas</text>
<text x="303" y="1211.7"><tspan x="303">Intervalos de</tspan><tspan x="303" dy="6.2">confianza</tspan></text>
<text x="384" y="1206.3">por intervalos</text>
<text x="469.5" y="1216.3">Puntual</text>
<text x="214.5" y="1235.3">medias</text>
<text x="237" y="1259.3">medianas</text>
<text x="291" y="1278.2"><tspan x="291">Porcentajes</tspan><tspan x="291" dy="6.2">o proporciones</tspan></text>
<text x="139.5" y="1269.3">t.test(x)$conf.int[1:2]</text>
<text x="176.5" y="1304.8">wilcox.test(x, conf.int=T, conf.level=0.95)</text>
<text x="256.5" y="1334.8">binom.test(p,n)$conf.int[1:2]</text>
<text x="483.5" y="1249.7"><tspan x="483.5">¿Quieres ver un resumen</tspan><tspan x="483.5" dy="6.2">de tus datos?</tspan></text>
<text x="404.5" y="1286.3">Si</text><text x="530" y="1288.3">No</text>
<text x="378" y="1311.2"><tspan x="378">¿Quieres agregar</tspan><tspan x="378" dy="6.2">la media?</tspan></text>
<text x="530.5" y="1319.2"><tspan x="530.5">Estudiar la tendencia central</tspan><tspan x="530.5" dy="6.2">o la dispersion de tus datos</tspan></text>
<text x="345" y="1350.3">No</text><text x="391.5" y="1353.3">Si</text>
<text x="322.5" y="1383.2"><tspan x="322.5">5 números de Tukey</tspan><tspan x="322.5" dy="6.2">fivenum(x)</tspan></text>
<text x="395" y="1390.8">summary(x)</text>
<text x="488" y="1362.3">Dispersión</text>
<text x="568.5" y="1354.2"><tspan x="568.5">Tendencia</tspan><tspan x="568.5" dy="6.2">central</tspan></text>
<text x="483.5" y="1392.6"><tspan x="483.5">¿Quieres conocer</tspan><tspan x="483.5" dy="6.2">la dispersion respecto</tspan><tspan x="483.5" dy="6.2">a la media?</tspan></text>
<text x="602" y="1399.6"><tspan x="602">¿Quieres saber</tspan><tspan x="602" dy="6.2">dónde está la mitad</tspan><tspan x="602" dy="6.2">de tus datos</tspan></text>
<text x="456.5" y="1438.3">Si</text><text x="498" y="1443.3">No</text>
<text x="589.5" y="1443.3">Si</text><text x="640" y="1440.3">No</text>
<text x="439.5" y="1470.6"><tspan x="439.5">Percentiles/</tspan><tspan x="439.5" dy="6.2">cuantiles</tspan><tspan x="439.5" dy="6.2">quantile(x,p)</tspan></text>
<text x="507.5" y="1469.5"><tspan x="507.5">Desviación estandar</tspan><tspan x="507.5" dy="6.2">sd(x)</tspan><tspan x="507.5" dy="6.2">y Varianza</tspan><tspan x="507.5" dy="6.2">var(x)</tspan></text>
<text x="580" y="1477.2"><tspan x="580">Mediana</tspan><tspan x="580" dy="6.2">median(x)</tspan></text>
<text x="658" y="1482.2"><tspan x="658">¿Quieres saber cuál</tspan><tspan x="658" dy="6.2">es el dato más frecuente?</tspan></text>
<text x="628.5" y="1526.3">Si</text><text x="678" y="1523.3">No</text>
<text x="613.5" y="1549.6"><tspan x="613.5">moda</tspan><tspan x="613.5" dy="6.2">library(modeest)</tspan><tspan x="613.5" dy="6.2">mfv(x)</tspan></text>
<text x="692.5" y="1552.2"><tspan x="692.5">media</tspan><tspan x="692.5" dy="6.2">mean(x)</tspan></text>
<text x="493.5" y="897.2"><tspan x="493.5">¿Comprobar el ajuste</tspan><tspan x="493.5" dy="6.2">a una distribución normal?</tspan></text>
<text x="446" y="940.3">No</text><text x="537.5" y="943.3">Si</text>
<text x="433" y="966.2"><tspan x="433">¿Tienes datos binomiales?</tspan><tspan x="433" dy="6.2">(cara,cruz; verdadero,falso)</tspan></text>
<text x="578.5" y="975.3">¿Tienes mas de 5000 datos?</text>
<text x="397" y="999.3">No</text><text x="460.5" y="1000.3">Si</text>
<text x="547" y="1024.3">No</text><text x="637.5" y="1028.3">Si</text>
<text x="366.5" y="1029.7"><tspan x="366.5">Binomial</tspan><tspan x="366.5" dy="6.2">binom.test(x,p)</tspan></text>
<text x="457.5" y="1027.6"><tspan x="457.5">Test chi cudadrada</tspan><tspan x="457.5" dy="6.2">para más de dos probabilidades</tspan><tspan x="457.5" dy="6.2">chisq.test(x, p=c(p1,p2,..pn))</tspan></text>
<text x="538" y="1057.2"><tspan x="538">Test de Shapiro-wilk</tspan><tspan x="538" dy="6.2">shapiro.test(x)</tspan></text>
<text x="637.5" y="1052.2"><tspan x="637.5">library(nortest)</tspan><tspan x="637.5" dy="6.2">Test de Anderson-Darling</tspan><tspan x="637.5" dy="6.2">ad.test(x)</tspan><tspan x="637.5" dy="6.2">Test de Kolmogorov-Smirnov (Lilliefors)</tspan><tspan x="637.5" dy="6.2">lillie.test(x)</tspan></text>
<text x="697.5" y="833.2"><tspan x="697.5">tabla de contingencia</tspan><tspan x="697.5" dy="6.2">table(data)</tspan></text>
<text x="779.5" y="842.7"><tspan x="779.5">Test de Fisher</tspan><tspan x="779.5" dy="6.2">fisher.test(data)</tspan></text>
<text x="664" y="876.6"><tspan x="664">¿Las variables</tspan><tspan x="664" dy="6.2">son independientes</tspan><tspan x="664" dy="6.2">entre si?</tspan></text>
<text x="729.5" y="884.3">Si</text><text x="665" y="924.3">No</text>
<text x="742.5" y="913.2"><tspan x="742.5">¿Las freciencias son</tspan><tspan x="742.5" dy="6.2">mayores a 5?</tspan></text>
<text x="697.5" y="945.6"><tspan x="697.5">¿Las variables</tspan><tspan x="697.5" dy="6.2">cualitativas son</tspan><tspan x="697.5" dy="6.2">diatómicas?</tspan><tspan x="697.5" dy="6.2">(0,1; V,F; si, no)</tspan></text>
<text x="771.5" y="950.3">Si</text><text x="719.5" y="1001.3">Si</text>
<text x="827" y="979.6"><tspan x="827">Test chi-cuadrada</tspan><tspan x="827" dy="6.2">chisq.test(x,f)</tspan><tspan x="827" dy="6.2">chisq.test(datos)</tspan></text>
<text x="758" y="1033.6"><tspan x="758">Test de McNemar</tspan><tspan x="758" dy="6.2">mcnemar.test(datos)</tspan><tspan x="758" dy="6.2">mcnemar.test(x,f)</tspan></text>
</g>
</svg>
</body></html>
